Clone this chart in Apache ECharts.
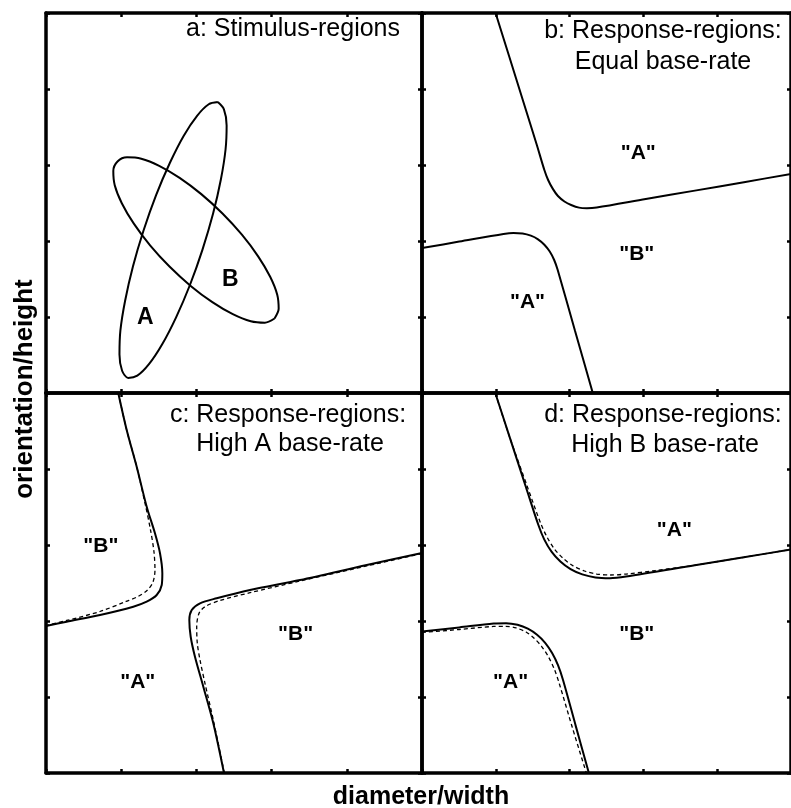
<!DOCTYPE html>
<html>
<head>
<meta charset="utf-8">
<style>
  html, body { margin: 0; padding: 0; background: #fff; }
  #chart { width: 791px; height: 808px; }
</style>
<script src="https://cdn.jsdelivr.net/npm/echarts@6/dist/echarts.min.js"></script>
</head>
<body>
<div id="chart"></div>
<script>
// Panel a: stimulus regions (outlines of the two category distributions)
const ellipseA = [
  [2.285, 3.828], [2.366, 3.733], [2.402, 3.521], [2.388, 3.207], [2.326, 2.812], [2.222, 2.361],
  [2.081, 1.887], [1.914, 1.421], [1.730, 0.996], [1.545, 0.641], [1.369, 0.379], [1.214, 0.228],
  [1.093, 0.199], [1.012, 0.293], [0.977, 0.505], [0.989, 0.820], [1.052, 1.214], [1.156, 1.666],
  [1.297, 2.139], [1.464, 2.605], [1.648, 3.030], [1.832, 3.386], [2.009, 3.647], [2.164, 3.799],
  [2.285, 3.828]
];
const ellipseB = [
  [3.039, 0.980], [3.094, 1.107], [3.075, 1.293], [2.981, 1.529], [2.821, 1.798], [2.605, 2.083],
  [2.347, 2.362], [2.065, 2.617], [1.777, 2.831], [1.505, 2.989], [1.267, 3.082], [1.078, 3.101],
  [0.951, 3.046], [0.895, 2.920], [0.914, 2.734], [1.008, 2.497], [1.168, 2.228], [1.384, 1.943],
  [1.642, 1.664], [1.924, 1.409], [2.212, 1.195], [2.484, 1.037], [2.723, 0.944], [2.911, 0.925],
  [3.039, 0.980]
];

// Panel b: response boundaries, equal base-rate
const bUpper = [
  [0.997, 5.000], [1.184, 4.421], [1.370, 3.842], [1.556, 3.263], [1.658, 2.934], [1.709, 2.803],
  [1.773, 2.686], [1.842, 2.592], [1.930, 2.520], [2.021, 2.474], [2.128, 2.439], [2.234, 2.432],
  [2.367, 2.441], [3.032, 2.553], [3.697, 2.663], [4.362, 2.774], [5.000, 2.882]
];
const bLower = [
  [0.000, 1.907], [0.505, 1.992], [1.104, 2.092], [1.239, 2.105], [1.363, 2.099], [1.475, 2.070],
  [1.572, 2.022], [1.658, 1.951], [1.731, 1.862], [1.791, 1.750], [1.839, 1.618], [2.074, 0.816],
  [2.314, 0.000]
];

// Panel c: high A base-rate (solid and dashed boundaries)
const cLeftSolid = [
  [0.961, 5.000], [1.073, 4.513], [1.206, 4.030], [1.339, 3.504], [1.449, 3.154], [1.516, 2.891],
  [1.547, 2.628], [1.539, 2.474], [1.472, 2.342], [1.339, 2.254], [1.161, 2.188], [0.718, 2.079],
  [0.275, 1.991], [0.000, 1.934]
];
const cLeftDashed = [
  [0.961, 5.000], [1.073, 4.513], [1.206, 4.030], [1.316, 3.553], [1.390, 3.197], [1.436, 2.908],
  [1.449, 2.671], [1.423, 2.513], [1.350, 2.408], [1.223, 2.322], [1.064, 2.257], [0.718, 2.125],
  [0.275, 2.007], [0.000, 1.941]
];
const cRightSolid = [
  [5.000, 2.895], [4.265, 2.737], [3.378, 2.539], [2.713, 2.408], [2.270, 2.299], [2.048, 2.233],
  [1.938, 2.145], [1.906, 2.013], [1.924, 1.793], [1.981, 1.530], [2.092, 1.136], [2.225, 0.654],
  [2.367, 0.000]
];
const cRightDashed = [
  [5.000, 2.888], [4.265, 2.724], [3.378, 2.526], [2.713, 2.372], [2.314, 2.270], [2.114, 2.188],
  [2.035, 2.101], [2.004, 1.925], [2.012, 1.707], [2.048, 1.487], [2.114, 1.180], [2.225, 0.697],
  [2.371, 0.000]
];

// Panel d: high B base-rate (solid and dashed boundaries)
const dUpperSolid = [
  [0.993, 5.000], [1.190, 4.413], [1.411, 3.754], [1.577, 3.263], [1.656, 3.074], [1.755, 2.912],
  [1.875, 2.782], [2.013, 2.682], [2.172, 2.613], [2.350, 2.573], [2.547, 2.564], [2.766, 2.586],
  [3.697, 2.734], [4.362, 2.839], [5.000, 2.941]
];
const dUpperDashed = [
  [0.993, 5.000], [1.190, 4.413], [1.430, 3.761], [1.609, 3.283], [1.695, 3.103], [1.795, 2.947],
  [1.915, 2.822], [2.048, 2.726], [2.201, 2.658], [2.367, 2.618], [2.553, 2.605], [2.766, 2.618],
  [3.165, 2.664], [3.697, 2.734], [4.362, 2.839], [5.000, 2.941]
];
const dLowerSolid = [
  [0.000, 1.861], [0.505, 1.916], [0.971, 1.967], [1.140, 1.972], [1.294, 1.950], [1.434, 1.899],
  [1.559, 1.819], [1.669, 1.713], [1.763, 1.578], [1.844, 1.416], [1.911, 1.224], [2.084, 0.617],
  [2.261, 0.000]
];
const dLowerDashed = [
  [0.000, 1.849], [0.505, 1.888], [0.971, 1.928], [1.130, 1.930], [1.277, 1.908], [1.410, 1.855],
  [1.523, 1.770], [1.622, 1.664], [1.715, 1.526], [1.795, 1.362], [1.862, 1.171], [2.035, 0.605],
  [2.227, 0.000]
];

// Region labels: [x, y, text]
const aLabels = [[1.32, 0.99, 'A'], [2.45, 1.49, 'B']];
const bLabels = [[2.93, 3.15, '"A"'], [2.91, 1.82, '"B"'], [1.43, 1.20, '"A"']];
const cLabels = [[0.73, 2.99, '"B"'], [3.32, 1.83, '"B"'], [1.22, 1.19, '"A"']];
const dLabels = [[3.42, 3.19, '"A"'], [2.91, 1.83, '"B"'], [1.20, 1.19, '"A"']];

// Panel titles
const panelTitles = [
  ['a: Stimulus-regions'],
  ['b: Response-regions:', 'Equal base-rate'],
  ['c: Response-regions:', 'High A base-rate'],
  ['d: Response-regions:', 'High B base-rate']
];
const xAxisTitle = 'diameter/width';
const yAxisTitle = 'orientation/height';

const FONT = "'Liberation Sans', Arial, Helvetica, sans-serif";
const tickValues = [0, 1, 2, 3, 4, 5];

const grids = [
  { left: 46, top: 13, width: 376, height: 380 },
  { left: 422, top: 13, width: 376, height: 380 },
  { left: 46, top: 393, width: 376, height: 380 },
  { left: 422, top: 393, width: 376, height: 380 }
];

function axis(gridIndex, position) {
  return {
    type: 'value', gridIndex, position,
    min: tickValues[0], max: tickValues[tickValues.length - 1], interval: 1,
    axisLine: { show: true, onZero: false, lineStyle: { color: '#000', width: 3.5 } },
    axisTick: { show: true, inside: true, length: 4, lineStyle: { color: '#000', width: 2.5 } },
    axisLabel: { show: false },
    splitLine: { show: false }
  };
}

const xAxes = [], yAxes = [];
grids.forEach((g, i) => {
  xAxes.push(axis(i, 'bottom'), axis(i, 'top'));
  yAxes.push(axis(i, 'left'), axis(i, 'right'));
});

function curve(data, panel, dashed) {
  return {
    type: 'line', data, xAxisIndex: panel * 2, yAxisIndex: panel * 2,
    showSymbol: false, symbol: 'none', smooth: 0.3, silent: true,
    lineStyle: dashed
      ? { color: '#000', width: 1.3, type: [4, 3] }
      : { color: '#000', width: 2 }
  };
}

function labels(data, panel, quoted) {
  return {
    type: 'scatter', data, xAxisIndex: panel * 2, yAxisIndex: panel * 2,
    symbolSize: 1, itemStyle: { color: 'rgba(255,255,255,0)', opacity: 1 }, silent: true,
    label: {
      show: true, position: 'inside', formatter: p => p.value[2],
      color: '#000', opacity: 1, textBorderWidth: 0, fontFamily: FONT, fontWeight: 'bold',
      fontSize: quoted ? 21 : 23
    }
  };
}

const series = [
  curve(ellipseA, 0), curve(ellipseB, 0), labels(aLabels, 0, false),
  curve(bUpper, 1), curve(bLower, 1), labels(bLabels, 1, true),
  curve(cLeftDashed, 2, true), curve(cLeftSolid, 2), curve(cRightDashed, 2, true), curve(cRightSolid, 2),
  labels(cLabels, 2, true),
  curve(dUpperDashed, 3, true), curve(dUpperSolid, 3), curve(dLowerDashed, 3, true), curve(dLowerSolid, 3),
  labels(dLabels, 3, true)
];

function text(str, x, y, opts) {
  return Object.assign({
    type: 'text', x, y, silent: true,
    style: Object.assign({
      text: str, fill: '#000', font: '25px ' + FONT, align: 'center', verticalAlign: 'middle'
    }, opts && opts.style)
  }, opts && opts.el);
}

const graphics = [
  text(panelTitles[0][0], 400, 29.5, { style: { align: 'right' } }),
  text(panelTitles[1][0], 663, 31.5), text(panelTitles[1][1], 663, 62.5),
  text(panelTitles[2][0], 288, 415.5), text(panelTitles[2][1], 290, 444.5),
  text(panelTitles[3][0], 663, 415.5), text(panelTitles[3][1], 665, 445.5),
  text(xAxisTitle, 421, 797, { style: { font: 'bold 25px ' + FONT } }),
  text(yAxisTitle, 25, 389, { style: { font: 'bold 26px ' + FONT }, el: { rotation: Math.PI / 2 } })
];

const chart = echarts.init(document.getElementById('chart'), null, { renderer: 'canvas' });
chart.setOption({
  backgroundColor: '#fff',
  animation: false,
  grid: grids,
  xAxis: xAxes,
  yAxis: yAxes,
  series,
  graphic: graphics
});
</script>
</body>
</html>
